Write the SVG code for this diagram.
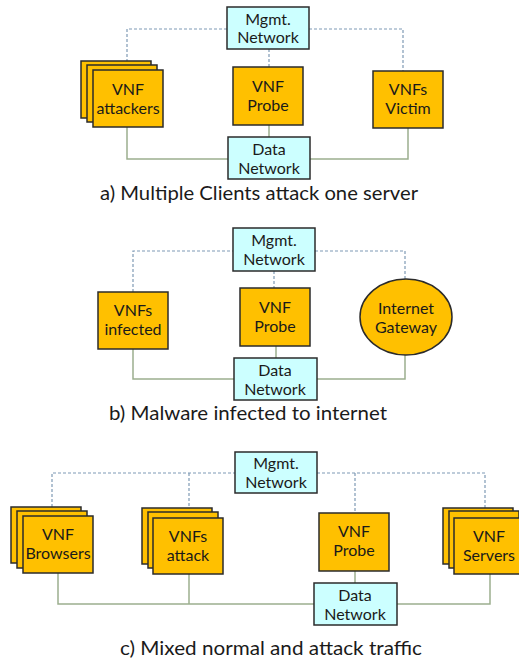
<svg xmlns="http://www.w3.org/2000/svg" width="519" height="660" viewBox="0 0 519 660">
<style>
.vnf{fill:#FFC000;stroke:#2b2b2b;stroke-width:1.5}
.net{fill:#CCFFFF;stroke:#2b2b2b;stroke-width:1.5}
.mg{fill:none;stroke:#7F9AB5;stroke-width:1.2;stroke-dasharray:3,2}
.dt{fill:none;stroke:#9CAF8E;stroke-width:1.5}
text{font-family:"Lato","Open Sans","Liberation Sans",sans-serif;fill:#1a1a1a;text-anchor:middle}
.n{font-size:16px}
.cap{font-size:20px}
</style>
<rect width="519" height="660" fill="#ffffff"/>
<g id="connectors">
<polyline class="mg" points="127,62 127,29 227,29"/>
<polyline class="mg" points="309,29 403,29 403,71"/>
<line class="mg" x1="269" y1="49" x2="269" y2="67"/>
<polyline class="dt" points="127,127 127,159 228,159"/>
<polyline class="dt" points="310,159 408,159 408,128"/>
<line class="dt" x1="269" y1="125" x2="269" y2="137"/>
<polyline class="mg" points="133,292 133,251 233,251"/>
<polyline class="mg" points="315,251 405,251 405,280"/>
<line class="mg" x1="274" y1="271" x2="274" y2="288"/>
<polyline class="dt" points="133,349 133,379 234,379"/>
<polyline class="dt" points="317,379 405,379 405,355"/>
<line class="dt" x1="276" y1="346" x2="276" y2="358"/>
<polyline class="mg" points="52,507 52,473 235,473"/>
<line class="mg" x1="189" y1="473" x2="189" y2="508"/>
<polyline class="mg" points="317,473 485,473 485,508"/>
<line class="mg" x1="355" y1="473" x2="355" y2="513"/>
<polyline class="dt" points="58,573 58,604 314,604"/>
<line class="dt" x1="189" y1="574" x2="189" y2="604"/>
<polyline class="dt" points="397,604 490,604 490,574"/>
<line class="dt" x1="355" y1="571" x2="355" y2="583"/>
</g>
<g id="a-mgmt"><rect class="net" x="227" y="7" width="82" height="42"/><text class="n" x="268" y="25">Mgmt.</text><text class="n" x="268" y="43">Network</text></g>
<g id="a-attackers"><rect class="vnf" x="81" y="61" width="70" height="57"/><rect class="vnf" x="87" y="65" width="70" height="57"/><rect class="vnf" x="93" y="70" width="70" height="57"/><text class="n" x="128" y="95">VNF</text><text class="n" x="128" y="114">attackers</text></g>
<g id="a-probe"><rect class="vnf" x="233" y="67" width="70" height="58"/><text class="n" x="268" y="92">VNF</text><text class="n" x="268" y="111">Probe</text></g>
<g id="a-victim"><rect class="vnf" x="373" y="71" width="70" height="57"/><text class="n" x="408" y="95">VNFs</text><text class="n" x="408" y="114">Victim</text></g>
<g id="a-data"><rect class="net" x="228" y="137" width="82" height="42"/><text class="n" x="269" y="155">Data</text><text class="n" x="269" y="174">Network</text></g>
<text class="cap" x="259" y="200" textLength="318" lengthAdjust="spacingAndGlyphs">a) Multiple Clients attack one server</text>
<g id="b-mgmt"><rect class="net" x="233" y="228" width="82" height="43"/><text class="n" x="274" y="246">Mgmt.</text><text class="n" x="274" y="265">Network</text></g>
<g id="b-infected"><rect class="vnf" x="98" y="292" width="70" height="57"/><text class="n" x="133" y="316">VNFs</text><text class="n" x="133" y="335">infected</text></g>
<g id="b-probe"><rect class="vnf" x="240" y="288" width="70" height="58"/><text class="n" x="275" y="313">VNF</text><text class="n" x="275" y="332">Probe</text></g>
<g id="b-gateway"><ellipse class="vnf" cx="406" cy="317" rx="46" ry="38"/><text class="n" x="406" y="314">Internet</text><text class="n" x="406" y="333">Gateway</text></g>
<g id="b-data"><rect class="net" x="234" y="358" width="83" height="42"/><text class="n" x="275" y="376">Data</text><text class="n" x="275" y="395">Network</text></g>
<text class="cap" x="248" y="420" textLength="278" lengthAdjust="spacingAndGlyphs">b) Malware infected to internet</text>
<g id="c-mgmt"><rect class="net" x="235" y="452" width="82" height="41"/><text class="n" x="276" y="469">Mgmt.</text><text class="n" x="276" y="488">Network</text></g>
<g id="c-browsers"><rect class="vnf" x="11" y="507" width="70" height="56"/><rect class="vnf" x="17" y="511" width="70" height="57"/><rect class="vnf" x="23" y="516" width="70" height="57"/><text class="n" x="58" y="540">VNF</text><text class="n" x="58" y="559">Browsers</text></g>
<g id="c-attack"><rect class="vnf" x="142" y="508" width="70" height="56"/><rect class="vnf" x="148" y="512" width="70" height="56"/><rect class="vnf" x="153" y="518" width="70" height="56"/><text class="n" x="188" y="542">VNFs</text><text class="n" x="188" y="561">attack</text></g>
<g id="c-probe"><rect class="vnf" x="319" y="513" width="70" height="58"/><text class="n" x="354" y="537">VNF</text><text class="n" x="354" y="556">Probe</text></g>
<g id="c-servers"><rect class="vnf" x="443" y="508" width="70" height="56"/><rect class="vnf" x="449" y="511" width="70" height="57"/><rect class="vnf" x="454" y="518" width="70" height="56"/><text class="n" x="489" y="542">VNF</text><text class="n" x="489" y="561">Servers</text></g>
<g id="c-data"><rect class="net" x="314" y="583" width="83" height="42"/><text class="n" x="355" y="601">Data</text><text class="n" x="355" y="620">Network</text></g>
<text class="cap" x="271" y="655" textLength="302" lengthAdjust="spacingAndGlyphs">c) Mixed normal and attack traffic</text>
</svg>
